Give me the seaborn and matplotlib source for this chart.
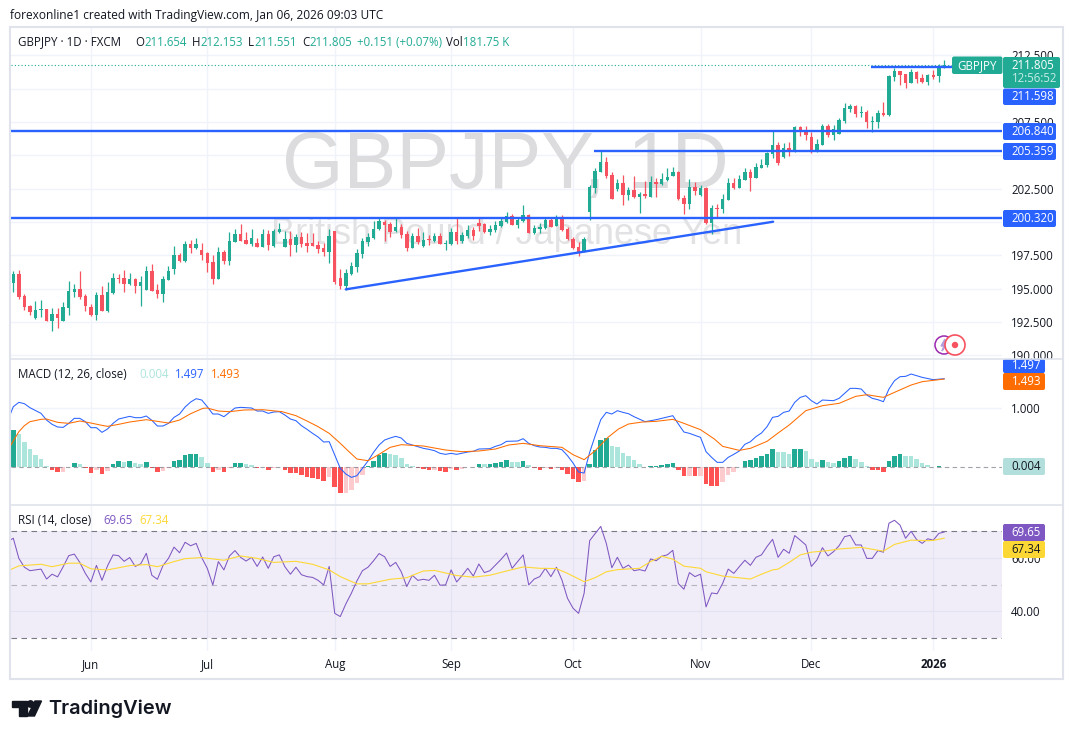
import numpy as np
import pandas as pd
import matplotlib
matplotlib.use("Agg")
import matplotlib.pyplot as plt
import seaborn as sns
from matplotlib.patches import Rectangle, Circle, Polygon, FancyBboxPatch

##############################################################################
# Data
##############################################################################

opens = [
    195.46, 196.11, 194.46, 193.71, 192.84, 193.44, 193.49, 192.61, 193.11, 192.61,
    193.59, 194.76, 194.99, 194.46, 193.64, 193.04, 194.54, 193.36, 194.71, 195.81,
    195.81, 195.39, 195.74, 195.21, 194.94, 196.34, 194.91, 194.64, 195.69, 196.46,
    197.51, 197.11, 198.36, 198.06, 197.89, 197.71, 197.01, 195.74, 197.76, 197.09,
    198.51, 199.14, 198.66, 198.36, 198.44, 198.14, 199.11, 198.24, 199.24, 198.14,
    198.74, 198.26, 198.89, 198.44, 198.44, 198.29, 198.06, 197.76, 199.34, 195.81,
    195.21, 196.11, 196.64, 197.59, 198.51, 198.79, 199.46, 200.04, 199.89, 199.36,
    199.64, 199.11, 198.09, 198.96, 198.24, 198.66, 198.59, 198.96, 198.39, 198.34,
    199.26, 198.59, 198.94, 199.44, 199.94, 199.84, 199.26, 199.39, 199.71, 200.04,
    200.46, 199.79, 200.06, 200.56, 199.21, 199.46, 199.54, 200.19, 199.71, 200.34,
    199.49, 198.71, 198.14, 197.79, 200.79, 202.59, 203.79, 204.49, 203.54, 202.46,
    202.91, 202.04, 202.39, 201.91, 202.09, 201.91, 203.01, 202.86, 203.16, 203.46,
    203.76, 201.84, 201.36, 202.64, 202.04, 202.56, 199.96, 201.06, 200.96, 201.66,
    202.94, 202.56, 203.19, 203.74, 203.31, 204.09, 204.29, 205.11, 205.79, 204.89,
    205.56, 205.29, 207.14, 206.86, 206.39, 205.29, 205.81, 207.21, 206.54, 206.64,
    207.59, 208.49, 208.71, 208.21, 208.26, 207.54, 207.49, 208.19, 208.01, 210.89,
    211.34, 211.11, 210.44, 211.26, 210.81, 210.51, 211.04, 210.96, 211.654,
]
closes = [
    196.11, 194.41, 193.66, 193.29, 193.41, 193.49, 192.61, 193.11, 192.84, 193.64,
    194.84, 194.99, 194.39, 193.74, 193.04, 194.54, 193.36, 194.76, 195.81, 195.76,
    195.39, 195.74, 195.24, 195.51, 196.34, 194.86, 194.61, 195.74, 196.34, 197.54,
    197.11, 198.36, 198.06, 198.36, 197.56, 196.96, 195.74, 197.76, 197.09, 198.59,
    199.11, 198.59, 198.36, 198.79, 198.14, 199.11, 198.29, 199.31, 199.49, 198.74,
    198.29, 198.86, 198.34, 198.21, 198.21, 197.99, 197.76, 198.96, 195.51, 195.21,
    196.19, 196.71, 197.69, 198.59, 198.89, 199.46, 200.09, 199.79, 199.29, 199.64,
    199.04, 198.09, 198.96, 198.51, 198.66, 198.63, 198.96, 198.36, 198.41, 199.26,
    198.61, 199.04, 199.44, 198.96, 199.71, 199.24, 199.46, 199.79, 200.09, 200.46,
    199.79, 200.19, 200.54, 199.21, 199.56, 199.64, 200.16, 199.66, 200.29, 199.39,
    198.71, 198.04, 197.71, 198.71, 202.66, 203.84, 204.49, 203.46, 201.76, 202.91,
    202.04, 202.39, 201.86, 202.09, 201.96, 203.01, 202.86, 203.24, 203.39, 203.74,
    201.76, 201.36, 202.64, 202.34, 202.56, 199.96, 201.09, 200.96, 201.74, 202.94,
    202.56, 203.24, 203.76, 203.29, 204.14, 204.29, 205.16, 205.79, 204.41, 205.54,
    205.29, 207.14, 206.74, 206.54, 205.26, 205.86, 207.21, 206.54, 206.99, 207.66,
    208.56, 208.71, 208.09, 208.24, 207.51, 207.59, 208.19, 208.04, 210.96, 211.36,
    211.04, 210.44, 211.26, 210.74, 210.51, 211.04, 210.89, 211.64, 211.805,
]
highs = [
    196.34, 196.41, 194.61, 193.79, 194.09, 194.16, 193.49, 193.56, 193.56, 194.01,
    195.59, 195.36, 196.34, 194.61, 193.86, 194.74, 195.21, 195.51, 196.16, 196.11,
    196.41, 196.16, 195.81, 195.96, 196.71, 196.86, 195.36, 195.96, 196.71, 198.21,
    197.69, 198.59, 198.66, 198.81, 198.46, 197.79, 197.54, 198.11, 197.91, 199.26,
    199.46, 199.86, 199.26, 199.46, 198.79, 199.46, 199.41, 199.48, 199.91, 199.36,
    199.31, 199.09, 199.26, 199.16, 199.16, 198.59, 198.44, 199.48, 199.34, 196.46,
    196.46, 197.04, 197.96, 198.79, 199.16, 200.09, 200.29, 200.19, 200.04, 200.29,
    199.84, 199.34, 199.16, 199.54, 199.29, 199.04, 199.16, 199.16, 198.66, 199.54,
    200.29, 199.29, 199.79, 199.66, 200.29, 199.91, 199.79, 200.09, 200.41, 200.74,
    200.64, 200.41, 201.29, 200.61, 199.79, 199.91, 200.29, 200.29, 200.54, 200.54,
    199.66, 198.91, 198.54, 198.91, 202.79, 204.04, 205.34, 204.86, 203.74, 203.24,
    203.54, 202.66, 203.46, 202.29, 203.09, 203.49, 203.29, 203.66, 204.04, 204.16,
    203.84, 202.04, 203.24, 202.99, 202.79, 202.66, 201.29, 201.36, 202.09, 203.29,
    203.29, 203.54, 204.04, 203.99, 204.41, 204.74, 205.29, 206.84, 205.99, 205.91,
    205.99, 207.21, 207.24, 207.21, 206.74, 206.24, 207.34, 207.34, 207.26, 207.79,
    208.91, 208.84, 208.76, 208.71, 208.39, 207.96, 208.41, 209.01, 211.04, 211.59,
    211.36, 211.11, 211.49, 211.34, 211.11, 211.11, 211.41, 211.86, 212.153,
]
lows = [
    194.79, 194.26, 193.44, 193.04, 192.76, 192.91, 192.59, 191.86, 192.09, 192.59,
    193.06, 194.39, 194.26, 193.36, 192.96, 192.69, 193.34, 193.29, 194.64, 195.46,
    194.79, 195.31, 194.71, 193.74, 194.91, 194.84, 194.31, 194.01, 195.66, 196.11,
    196.99, 197.04, 197.71, 197.99, 197.16, 196.26, 195.36, 195.74, 196.89, 196.81,
    198.49, 198.56, 198.34, 198.21, 198.11, 198.14, 197.91, 198.11, 199.16, 198.14,
    197.46, 197.76, 198.16, 197.79, 198.21, 197.71, 197.46, 196.94, 195.36, 194.99,
    194.91, 196.04, 196.26, 197.31, 198.21, 198.76, 199.41, 198.61, 198.91, 199.29,
    198.84, 197.86, 198.09, 198.34, 198.16, 198.29, 198.49, 198.34, 197.91, 198.29,
    198.34, 198.46, 198.79, 198.66, 199.34, 199.21, 199.04, 199.29, 199.61, 199.94,
    199.79, 199.54, 200.04, 199.19, 199.11, 199.16, 199.51, 199.61, 199.69, 199.36,
    198.66, 197.99, 197.46, 197.73, 200.16, 202.16, 203.79, 203.29, 201.76, 202.36,
    201.29, 201.66, 201.79, 200.69, 201.79, 201.86, 201.89, 202.79, 203.11, 203.46,
    201.69, 200.59, 200.96, 202.04, 201.96, 199.89, 199.09, 200.31, 200.66, 201.66,
    202.46, 202.54, 203.14, 202.34, 203.29, 204.04, 204.14, 204.84, 204.29, 204.84,
    204.96, 205.29, 206.46, 206.16, 205.19, 205.26, 205.79, 206.39, 206.16, 206.61,
    207.44, 208.26, 207.89, 207.89, 207.06, 206.76, 207.06, 207.94, 207.96, 210.59,
    210.29, 210.06, 210.44, 210.44, 210.44, 210.29, 210.74, 210.51, 211.551,
]

# MACD panel readings are heights above the zero line, 177 of them make 1.0
MACD_READ = 177.0
hist_read = [
    110, 100, 75, 54, 37, 23, 2, -9, -15, -14, 1, 11, 10, -3, -18, -9, -21, -11, 8, 17,
    16, 17, 11, 9, 14, -3, -15, -11, -4, 18, 21, 36, 38, 38, 29, 11, -15, -10, -15, -3,
    11, 11, 8, 7, -3, 0, -9, -3, -1, -9, -18, -18, -24, -30, -33, -36, -42, -30, -60, -78,
    -77, -69, -48, -24, 2, 18, 36, 42, 38, 36, 27, 8, 4, -4, -6, -9, -8, -12, -15, -6,
    -9, -5, -1, -1, 9, 8, 10, 13, 15, 21, 15, 14, 18, 5, -3, -9, -4, -6, -3, -10,
    -22, -37, -46, -42, 10, 52, 82, 88, 64, 61, 43, 34, 21, 10, -1, 3, 3, 6, 10, 13,
    -10, -27, -26, -27, -26, -52, -57, -57, -45, -25, -15, 1, 18, 20, 27, 32, 40, 55, 46, 45,
    39, 54, 55, 48, 25, 16, 22, 16, 13, 17, 28, 32, 25, 15, 4, -10, -10, -14, 17, 33,
    39, 33, 32, 24, 12, 6, 1, 2, 1,
]
macd_x = [
    -0.6, 0, 1, 2, 3, 5, 6, 7, 8, 9, 10, 11, 12, 13, 14, 15, 16, 17, 18, 19, 21, 22, 23, 24,
    25, 26, 27, 28, 29, 30, 31, 32, 33, 34, 35, 36, 37, 38, 39, 40, 41, 43, 44, 45, 46, 47,
    48, 49, 50, 51, 52, 53, 54, 55, 56, 57, 58, 59, 60, 61, 62, 63, 64, 65, 66, 67, 68, 69,
    70, 71, 72, 73, 74, 75, 76, 77, 78, 79, 80, 82, 83, 84, 86, 87, 88, 89, 91, 92, 93, 94,
    95, 96, 97, 98, 99, 100, 101, 102, 103, 104, 105, 106, 107, 108, 109, 110, 111, 112, 114,
    116, 119, 120, 121, 122, 123, 124, 125, 126, 127, 128, 129, 130, 131, 132, 133, 134, 135,
    136, 137, 138, 139, 140, 141, 142, 143, 144, 145, 146, 147, 148, 149, 150, 151, 152, 153,
    154, 155, 156, 157, 158, 159, 160, 161, 162, 163, 164, 166, 168,
]
macd_read = [
    156, 181, 194, 190, 178, 161, 141, 128, 120, 119, 131, 146, 146, 136, 118, 118, 104, 114,
    131, 144, 152, 148, 148, 153, 140, 123, 123, 131, 149, 159, 180, 195, 205, 201, 181, 159,
    159, 151, 164, 177, 179, 177, 168, 168, 161, 165, 166, 156, 144, 139, 124, 113, 101, 90,
    75, 76, 36, -4, -21, -31, -26, -4, 18, 44, 66, 81, 87, 92, 87, 71, 66, 61, 56, 53, 49, 41,
    38, 41, 38, 45, 47, 54, 55, 62, 67, 77, 78, 85, 71, 64,
    60, 59, 56, 56, 52, 34, 12, -15, -18, 44, 94, 142, 164, 159, 169, 164, 160, 151, 136,
    142, 154, 129, 105, 101, 95, 89, 46, 29, 14, 14, 29, 38, 48, 68, 76, 91, 102,
    121, 149, 152, 164, 168, 194, 209, 214, 199, 189, 201, 200, 199, 206, 221, 236, 236, 234,
    216, 206, 202, 196, 234, 259, 271, 272, 279, 274, 269, 262, 265,
]
signal_x = [
    -0.6, 0, 1, 2, 3, 5, 6, 7, 8, 10, 12, 14, 16, 17, 19, 21, 24, 26, 28, 30, 32, 34.2, 35, 37,
    39, 41.6, 45, 48.5, 51, 53, 55, 57, 59, 60.7, 62, 64, 66, 68, 70, 74, 78, 81, 84, 87, 89.4,
    92, 95, 99, 101, 103, 105, 107.3, 109.2, 111, 113.5, 116, 119, 121, 124, 126.5, 128, 131,
    133, 136, 138, 140, 143, 146, 149, 152, 154, 157, 159, 162, 164, 168,
]
signal_read = [
    61, 78, 106, 124, 136, 143, 144, 139, 134, 131, 138, 132, 125, 122, 128, 135, 142, 137, 132,
    141, 160, 176, 177, 168, 166, 171, 172, 166, 154, 138, 121, 101, 71, 44, 24, 19, 38, 59, 67,
    63, 51, 46, 48, 54, 66, 71, 64, 59, 37, 22, 49, 89, 114, 129, 135, 137, 143, 131, 112, 84,
    62, 50, 56, 77, 102, 126, 169, 184, 191, 212, 217, 209, 224, 246, 256, 264,
]

rsi_values = [
    66.6, 67.3, 59.8, 56.5, 55.2, 55.5, 55.8, 52.1, 53.9, 52.9, 56.7, 60.8, 61.4, 58.3, 54.2,
    51.0, 57.2, 51.6, 57.0, 61.1, 60.8, 58.7, 60.1, 56.8, 57.8, 61.7, 53.5, 52.0, 57.1, 59.8,
    64.0, 61.9, 65.8, 64.5, 65.4, 60.1, 56.1, 49.9, 58.6, 55.5, 60.7, 62.7, 60.2, 58.8, 60.2,
    56.8, 60.3, 56.1, 60.4, 61.1, 56.7, 53.9, 56.5, 53.7, 53.0, 52.7, 51.6, 49.9, 56.8, 39.3,
    38.1, 42.8, 46.8, 51.4, 55.2, 56.5, 58.9, 61.6, 60.4, 56.8, 58.3, 54.8, 49.3, 53.5, 51.6,
    52.0, 51.6, 53.5, 49.8, 49.9, 55.5, 51.0, 53.4, 56.1, 53.2, 57.7, 54.5, 55.2, 57.3, 59.4,
    61.8, 56.1, 58.6, 61.1, 49.9, 52.1, 53.0, 56.1, 53.0, 56.5, 51.7, 44.9, 41.2, 39.3, 46.8,
    66.4, 69.1, 71.7, 65.4, 56.3, 60.2, 56.1, 57.3, 55.2, 55.6, 55.1, 59.6, 58.9, 60.6, 61.1,
    62.8, 50.4, 48.3, 54.5, 53.0, 53.9, 41.7, 46.9, 46.6, 50.5, 55.8, 54.2, 56.7, 59.1, 57.2,
    60.2, 61.1, 64.2, 66.9, 60.2, 63.2, 61.7, 68.3, 66.6, 64.8, 56.8, 59.2, 63.8, 60.7, 62.3,
    64.5, 67.9, 68.4, 64.8, 64.8, 59.8, 59.8, 62.7, 62.1, 72.9, 74.0, 72.2, 67.3, 69.9, 66.8,
    65.4, 67.1, 66.6, 69.1, 69.65,
]
rsi_ma_x = [
    -0.6, 1, 5, 7, 10, 12, 14, 17, 21, 24, 26, 29, 31, 34, 38, 41, 44, 47, 51, 54, 57, 59, 62, 64,
    68, 71, 74, 76, 80, 83, 86, 89, 92, 95, 98, 100, 103, 105, 107, 109, 113, 115, 117, 119, 121,
    124, 125, 128, 133, 135, 137, 138, 140, 142, 144, 147, 149, 153, 155, 157, 159, 162, 165, 166, 168,
]
rsi_ma = [
    55.5, 57, 57.6, 56.7, 58, 58, 55.9, 55.5, 57.1, 57.5, 56.7, 58.6, 59.7, 60.1, 59.1, 60.7, 59.8,
    58.3, 58.7, 57.6, 55.5, 53, 50.3, 50.3, 52, 52.6, 55.1, 55.3, 53.4, 52.8, 53.5, 55.1, 56.6, 56.1,
    56, 54.2, 51.1, 52.6, 54.8, 55.6, 56.1, 58.6, 60.6, 59.5, 56.9, 56.1, 54.8, 53.2, 52.1, 53.9,
    55.5, 55.8, 58.3, 61.1, 62.1, 62.7, 63.3, 63.9, 63.2, 62.5, 65, 66.6, 66.4, 66.5, 67.34,
]

level_prices = [206.84, 205.359, 200.32, 211.598]
level_starts = [-0.4, 104.8, -0.4, 154.8]
trend_x = [60, 137.1]
trend_y = [194.96, 200.03]

month_bars = [14, 35, 58, 79, 101, 124, 144, 166]
month_labels = ["Jun", "Jul", "Aug", "Sep", "Oct", "Nov", "Dec", "2026"]
price_ticks = [190, 192.5, 195, 197.5, 200, 202.5, 205, 207.5, 210, 212.5]
# 200, 205 and 210 sit under the level badges, the picture shows no text for them
price_labels = ["190.000", "192.500", "195.000", "197.500", "", "202.500", "", "207.500", "", "212.500"]

##############################################################################
# Style
##############################################################################

W, H = 1074, 739
UP, DOWN = "#22ab94", "#f7525f"
BLUE = "#2962ff"
INK = "#131722"
GRID = "#f0f3fa"
FRAME = "#e0e3eb"
PURPLE = "#7e57c2"
YELLOW = "#fdd835"
ORANGE = "#ff6d00"
LABEL_SIZE = 8.3

sns.set_theme(style="white")
plt.rcParams["font.family"] = ["Open Sans", "DejaVu Sans"]
plt.rcParams["font.size"] = LABEL_SIZE

fig = plt.figure(figsize=(W / 100, H / 100), dpi=100, facecolor="white")


def panel(top, bottom):
    ax = fig.add_axes([11 / W, 1 - bottom / H, (1002 - 11) / W, (bottom - top) / H])
    ax.set_xlim(-0.415, 178.4)
    ax.set_facecolor("none")
    for s in ax.spines.values():
        s.set_visible(False)
    return ax


def dress(ax, ticks, labels):
    ax.set_yticks(ticks)
    ax.set_yticklabels(labels)
    ax.yaxis.tick_right()
    ax.set_xticks(month_bars)
    ax.tick_params(axis="y", length=0, pad=6.5, labelsize=LABEL_SIZE, labelcolor=INK)
    ax.tick_params(axis="x", length=0, labelbottom=False)
    ax.set_xlabel("")
    ax.set_ylabel("")
    ax.set_axisbelow(True)
    ax.grid(True, color=GRID, linewidth=1.0)


# full figure layer in pixels, for the badges and the header
over = fig.add_axes([0, 0, 1, 1], zorder=10)
over.set_xlim(0, W)
over.set_ylim(H, 0)
over.axis("off")

##############################################################################
# Price panel
##############################################################################

ax_price = panel(28, 358)
candles = pd.DataFrame({"open": opens, "high": highs, "low": lows, "close": closes})
candles["bar"] = candles.index
candles["up"] = candles["close"] >= candles["open"]
candle_colors = np.where(candles["up"], UP, DOWN)

ax_price.vlines(candles["bar"], candles["low"], candles["high"], colors=candle_colors, linewidth=0.9, zorder=3)
ax_price.bar(
    candles["bar"],
    np.maximum((candles["close"] - candles["open"]).abs(), 0.07),
    bottom=candles[["open", "close"]].min(axis=1),
    width=0.62,
    color=candle_colors,
    linewidth=0,
    zorder=3,
)
ax_price.axhline(closes[-1], color=UP, linewidth=0.8, linestyle=(0, (1, 2)), zorder=2)
for price, start in zip(level_prices, level_starts):
    ax_price.hlines(price, start, 178.4, color=BLUE, linewidth=1.7, zorder=4)
sns.lineplot(x=trend_x, y=trend_y, color=BLUE, linewidth=1.7, ax=ax_price, zorder=4)

ax_price.set_ylim(189.81, 214.56)
dress(ax_price, price_ticks, price_labels)

# watermark behind the candles
ax_price.text(505, 168, "GBPJPY, 1D", transform=over.transData, family="Liberation Sans",
              fontsize=57, color="#dcdcde", ha="center", va="center", zorder=1)
ax_price.text(507, 234, "British Pound / Japanese Yen", transform=over.transData, family="Liberation Sans",
              fontsize=26, color="#e2e2e4", ha="center", va="center", zorder=1)

##############################################################################
# MACD panel
##############################################################################

ax_macd = panel(360, 504)
hist = pd.DataFrame({"bar": range(len(hist_read)), "hist": np.array(hist_read) / MACD_READ})
prev = hist["hist"].shift(1).fillna(0)
hist["tone"] = np.select(
    [(hist["hist"] >= 0) & (hist["hist"] >= prev), hist["hist"] >= 0, hist["hist"] <= prev],
    ["up_strong", "up_weak", "down_strong"],
    default="down_weak",
)
sns.barplot(
    data=hist,
    x="bar",
    y="hist",
    hue="tone",
    palette={"up_strong": UP, "up_weak": "#ace5dc", "down_strong": "#ff5252", "down_weak": "#fccbcd"},
    native_scale=True,
    dodge=False,
    width=0.82,
    linewidth=0,
    saturation=1,
    errorbar=None,
    legend=False,
    ax=ax_macd,
    zorder=2,
)
ax_macd.axhline(0, color="#787b86", linewidth=0.8, linestyle=(0, (4, 3)), alpha=0.7, zorder=3)
sns.lineplot(x=macd_x, y=np.array(macd_read) / MACD_READ, color=BLUE, linewidth=0.75, ax=ax_macd, zorder=4)
sns.lineplot(x=signal_x, y=np.array(signal_read) / MACD_READ, color=ORANGE, linewidth=0.75, ax=ax_macd, zorder=4)
ax_macd.set_xlim(-0.415, 178.4)
ax_macd.set_ylim(-0.627, 1.814)
dress(ax_macd, [1.0], ["1.000"])

##############################################################################
# RSI panel
##############################################################################

ax_rsi = panel(506, 651)
ax_rsi.axhspan(30, 70, color=PURPLE, alpha=0.1, linewidth=0, zorder=1)
for level, alpha in [(70, 1.0), (50, 0.5), (30, 1.0)]:
    ax_rsi.axhline(level, color="#787b86", linewidth=0.8, linestyle=(0, (5, 4)), alpha=alpha, zorder=3)
rsi_x = [-0.6] + list(range(len(rsi_values) - 1))
sns.lineplot(x=rsi_x, y=rsi_values, color=PURPLE, linewidth=0.75, ax=ax_rsi, zorder=4)
sns.lineplot(x=rsi_ma_x, y=rsi_ma, color=YELLOW, linewidth=0.8, ax=ax_rsi, zorder=4)
ax_rsi.set_xlim(-0.415, 178.4)
ax_rsi.set_ylim(25.26, 79.33)
dress(ax_rsi, [40, 60], ["40.00", "60.00"])
ax_rsi.set_xticklabels(month_labels)
ax_rsi.tick_params(axis="x", labelbottom=True, pad=5, labelsize=LABEL_SIZE, labelcolor=INK)
ax_rsi.get_xticklabels()[-1].set_fontweight("bold")

##############################################################################
# Frame, header, legends, badges
##############################################################################

over.add_patch(Rectangle((10, 27), 1053, 652, fill=False, edgecolor=FRAME, linewidth=1.5))
over.add_patch(Rectangle((1002, 358.5), 60, 3, color="white", linewidth=0))
over.plot([10, 1063], [358.5, 358.5], color=FRAME, linewidth=1.2)
over.plot([10, 1063], [505, 505], color=FRAME, linewidth=1.2)


def put(x, y, s, color=INK, **kw):
    kw.setdefault("fontsize", LABEL_SIZE)
    over.text(x, y, s, color=color, va="center", ha=kw.pop("ha", "left"), **kw)


put(10, 15, "forexonline1 created with TradingView.com, Jan 06, 2026 09:03 UTC", fontsize=8.55)

put(18, 42, "GBPJPY · 1D · FXCM")
for x, s, c in [
    (135, "O", INK), (144, "211.654", UP), (192, "H", INK), (200, "212.153", UP),
    (248, "L", INK), (254, "211.551", UP), (302, "C", INK), (309, "211.805", UP),
    (357, "+0.151 (+0.07%)", UP), (446, "Vol", INK), (463, "181.75 K", UP),
]:
    put(x, 42, s, c)

put(18, 374, "MACD (12, 26, close)")
put(139, 374, "0.004", "#ace5dc")
put(175, 374, "1.497", BLUE)
put(211, 374, "1.493", ORANGE)

put(18, 521, "RSI (14, close)")
put(103, 521, "69.65", PURPLE)
put(139, 521, "67.34", YELLOW)


def badge(x1, top, bottom, face, text, color="white", y=None, x0=1003):
    over.add_patch(FancyBboxPatch((x0 + 1, top + 1), x1 - x0 - 2, bottom - top - 2,
                                  boxstyle="round,pad=1,rounding_size=2", facecolor=face, edgecolor="none"))
    put(1011.5, (top + bottom) / 2 if y is None else y, text, color)


# symbol tag sits left of the axis
over.add_patch(FancyBboxPatch((953, 57.5), 48.5, 15.5, boxstyle="round,pad=1,rounding_size=2",
                              facecolor=UP, edgecolor="none"))
put(977, 65.5, "GBPJPY", "white", ha="center")

badge(1060, 57, 88, UP, "211.805", y=65.5)
put(1011.5, 79, "12:56:52", "#c4ece5")
badge(1056, 88.5, 105, BLUE, "211.598")
badge(1056, 123, 140, BLUE, "206.840")
badge(1056, 143, 160, BLUE, "205.359")
badge(1056, 210, 227, BLUE, "200.320")
badge(1045, 359, 373, BLUE, "1.497", y=365.5)
badge(1045, 373, 390, ORANGE, "1.493")
badge(1045, 458, 475, "#b2dfdb", "0.004", INK)
badge(1045, 524, 541, PURPLE, "69.65")
badge(1045, 541, 558, YELLOW, "67.34", INK)

# small markers near the axis
over.add_patch(Circle((944, 345), 9, facecolor="white", edgecolor="#9c27b0", linewidth=1.1))
over.add_patch(Polygon([(945, 339), (941, 346), (944, 346), (942, 351), (947, 344), (944, 344)], color="#b39ddb"))
over.add_patch(Circle((955, 345), 10, facecolor="white", edgecolor=DOWN, linewidth=1.2))
over.add_patch(Circle((955, 345), 3.2, facecolor=DOWN, edgecolor="none"))

# logo
over.add_patch(Polygon([(12, 701), (27, 701), (27, 716), (19, 716), (19, 707), (12, 707)], color=INK))
over.add_patch(Circle((30.5, 704), 3.2, color=INK))
over.add_patch(Polygon([(35, 701), (41.5, 701), (34.5, 716), (27.5, 716)], color=INK))
put(48, 709, "TradingView", fontsize=14.4, fontweight="semibold", family="Inter")

fig.savefig("out.png", dpi=100, facecolor="white")
